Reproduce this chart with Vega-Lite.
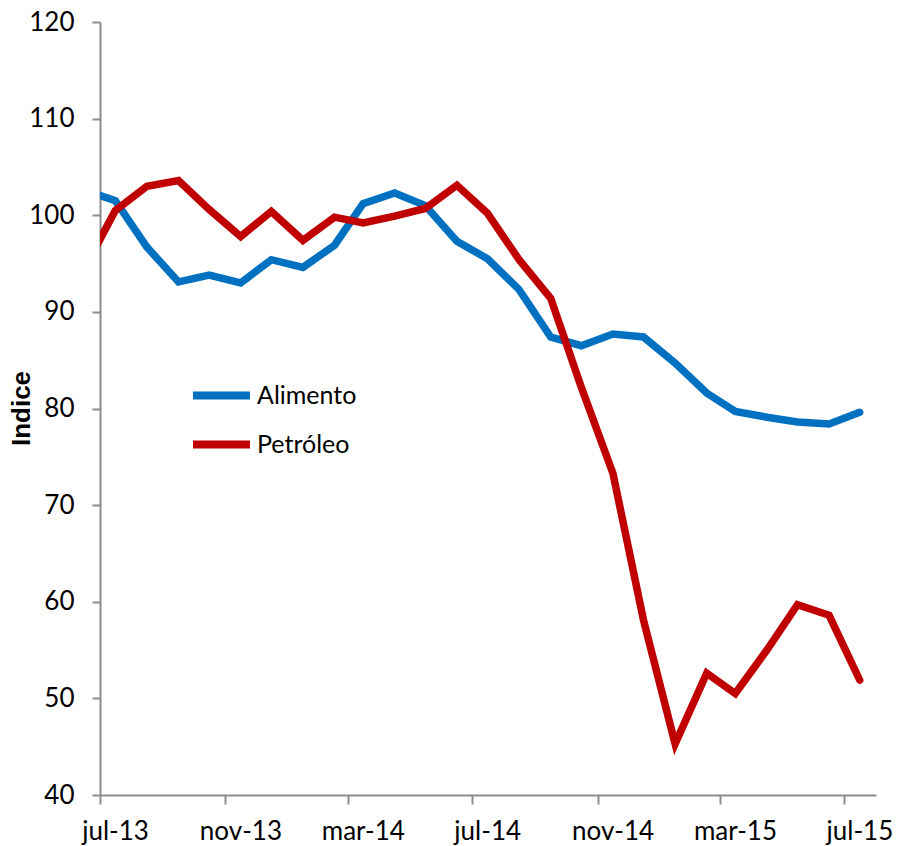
{
  "$schema": "https://vega.github.io/schema/vega-lite/v6.json",
  "autosize": {"type": "none"},
  "width": 776,
  "height": 773,
  "padding": {"left": 100, "top": 22, "right": 21, "bottom": 51},
  "background": "white",
  "config": {"view": {"stroke": null}},
  "data": {"values": [
    {"fecha": "2013-06-16", "serie": "Alimento", "valor": 102.6},
    {"fecha": "2013-07-16", "serie": "Alimento", "valor": 101.5},
    {"fecha": "2013-08-16", "serie": "Alimento", "valor": 96.7},
    {"fecha": "2013-09-16", "serie": "Alimento", "valor": 93.1},
    {"fecha": "2013-10-16", "serie": "Alimento", "valor": 93.8},
    {"fecha": "2013-11-16", "serie": "Alimento", "valor": 93.0},
    {"fecha": "2013-12-16", "serie": "Alimento", "valor": 95.4},
    {"fecha": "2014-01-16", "serie": "Alimento", "valor": 94.6},
    {"fecha": "2014-02-16", "serie": "Alimento", "valor": 96.9},
    {"fecha": "2014-03-16", "serie": "Alimento", "valor": 101.2},
    {"fecha": "2014-04-16", "serie": "Alimento", "valor": 102.3},
    {"fecha": "2014-05-16", "serie": "Alimento", "valor": 101.0},
    {"fecha": "2014-06-16", "serie": "Alimento", "valor": 97.3},
    {"fecha": "2014-07-16", "serie": "Alimento", "valor": 95.5},
    {"fecha": "2014-08-16", "serie": "Alimento", "valor": 92.3},
    {"fecha": "2014-09-16", "serie": "Alimento", "valor": 87.4},
    {"fecha": "2014-10-16", "serie": "Alimento", "valor": 86.5},
    {"fecha": "2014-11-16", "serie": "Alimento", "valor": 87.7},
    {"fecha": "2014-12-16", "serie": "Alimento", "valor": 87.4},
    {"fecha": "2015-01-16", "serie": "Alimento", "valor": 84.7},
    {"fecha": "2015-02-16", "serie": "Alimento", "valor": 81.6},
    {"fecha": "2015-03-16", "serie": "Alimento", "valor": 79.7},
    {"fecha": "2015-04-16", "serie": "Alimento", "valor": 79.1},
    {"fecha": "2015-05-16", "serie": "Alimento", "valor": 78.6},
    {"fecha": "2015-06-16", "serie": "Alimento", "valor": 78.4},
    {"fecha": "2015-07-16", "serie": "Alimento", "valor": 79.6},
    {"fecha": "2013-06-16", "serie": "Petróleo", "valor": 94.5},
    {"fecha": "2013-07-16", "serie": "Petróleo", "valor": 100.5},
    {"fecha": "2013-08-16", "serie": "Petróleo", "valor": 103.0},
    {"fecha": "2013-09-16", "serie": "Petróleo", "valor": 103.6},
    {"fecha": "2013-10-16", "serie": "Petróleo", "valor": 100.6},
    {"fecha": "2013-11-16", "serie": "Petróleo", "valor": 97.8},
    {"fecha": "2013-12-16", "serie": "Petróleo", "valor": 100.4},
    {"fecha": "2014-01-16", "serie": "Petróleo", "valor": 97.4},
    {"fecha": "2014-02-16", "serie": "Petróleo", "valor": 99.8},
    {"fecha": "2014-03-16", "serie": "Petróleo", "valor": 99.2},
    {"fecha": "2014-04-16", "serie": "Petróleo", "valor": 99.9},
    {"fecha": "2014-05-16", "serie": "Petróleo", "valor": 100.7},
    {"fecha": "2014-06-16", "serie": "Petróleo", "valor": 103.1},
    {"fecha": "2014-07-16", "serie": "Petróleo", "valor": 100.2},
    {"fecha": "2014-08-16", "serie": "Petróleo", "valor": 95.4},
    {"fecha": "2014-09-16", "serie": "Petróleo", "valor": 91.4},
    {"fecha": "2014-10-16", "serie": "Petróleo", "valor": 82.2},
    {"fecha": "2014-11-16", "serie": "Petróleo", "valor": 73.3},
    {"fecha": "2014-12-16", "serie": "Petróleo", "valor": 58.1},
    {"fecha": "2015-01-16", "serie": "Petróleo", "valor": 45.3},
    {"fecha": "2015-02-16", "serie": "Petróleo", "valor": 52.6},
    {"fecha": "2015-03-16", "serie": "Petróleo", "valor": 50.5},
    {"fecha": "2015-04-16", "serie": "Petróleo", "valor": 55.0},
    {"fecha": "2015-05-16", "serie": "Petróleo", "valor": 59.7},
    {"fecha": "2015-06-16", "serie": "Petróleo", "valor": 58.6},
    {"fecha": "2015-07-16", "serie": "Petróleo", "valor": 51.9}
  ]},
  "mark": {"type": "line", "clip": true, "strokeWidth": 7.5, "strokeCap": "round"},
  "encoding": {
    "x": {
      "field": "fecha",
      "type": "temporal",
      "scale": {"type": "utc", "domain": [{"year": 2013, "month": 7, "date": 1, "utc": true}, {"year": 2015, "month": 8, "date": 1, "utc": true}]},
      "axis": {
        "title": null,
        "grid": false,
        "values": [
          {"year": 2013, "month": 7, "date": 1, "utc": true},
          {"year": 2013, "month": 11, "date": 1, "utc": true},
          {"year": 2014, "month": 3, "date": 1, "utc": true},
          {"year": 2014, "month": 7, "date": 1, "utc": true},
          {"year": 2014, "month": 11, "date": 1, "utc": true},
          {"year": 2015, "month": 3, "date": 1, "utc": true},
          {"year": 2015, "month": 7, "date": 1, "utc": true}
        ],
        "labelExpr": "lower(utcFormat(datum.value, '%b-%y'))",
        "labelOffset": 15,
        "labelFont": "Lato",
        "labelFontSize": 26,
        "labelColor": "black",
        "labelPadding": 14,
        "labelFlush": false,
        "labelOverlap": false,
        "tickSize": 9,
        "tickColor": "#8c8c8c",
        "tickWidth": 2,
        "domainColor": "#8c8c8c",
        "domainWidth": 2
      }
    },
    "y": {
      "field": "valor",
      "type": "quantitative",
      "scale": {"domain": [40, 120], "nice": false, "zero": false},
      "axis": {
        "title": "Indice",
        "titleFont": "Liberation Sans",
        "titleFontSize": 26,
        "titleFontWeight": "bold",
        "titleColor": "black",
        "titleAngle": 270,
        "titleX": -79,
        "titleY": 386,
        "titleAlign": "center",
        "titleBaseline": "middle",
        "grid": false,
        "values": [40, 50, 60, 70, 80, 90, 100, 110, 120],
        "labelFont": "Lato",
        "labelFontSize": 26,
        "labelColor": "black",
        "labelPadding": 18,
        "tickSize": 8,
        "tickColor": "#8c8c8c",
        "tickWidth": 2,
        "domainColor": "#8c8c8c",
        "domainWidth": 2
      }
    },
    "color": {
      "field": "serie",
      "type": "nominal",
      "scale": {"domain": ["Alimento", "Petróleo"], "range": ["#0070C0", "#C00000"]},
      "legend": {
        "title": null,
        "orient": "none",
        "legendX": 89,
        "legendY": 341,
        "symbolType": "stroke",
        "symbolSize": 3249,
        "symbolStrokeWidth": 8,
        "labelFont": "Lato",
        "labelFontSize": 25,
        "labelColor": "black",
        "labelOffset": 3,
        "rowPadding": -6
      }
    }
  }
}
